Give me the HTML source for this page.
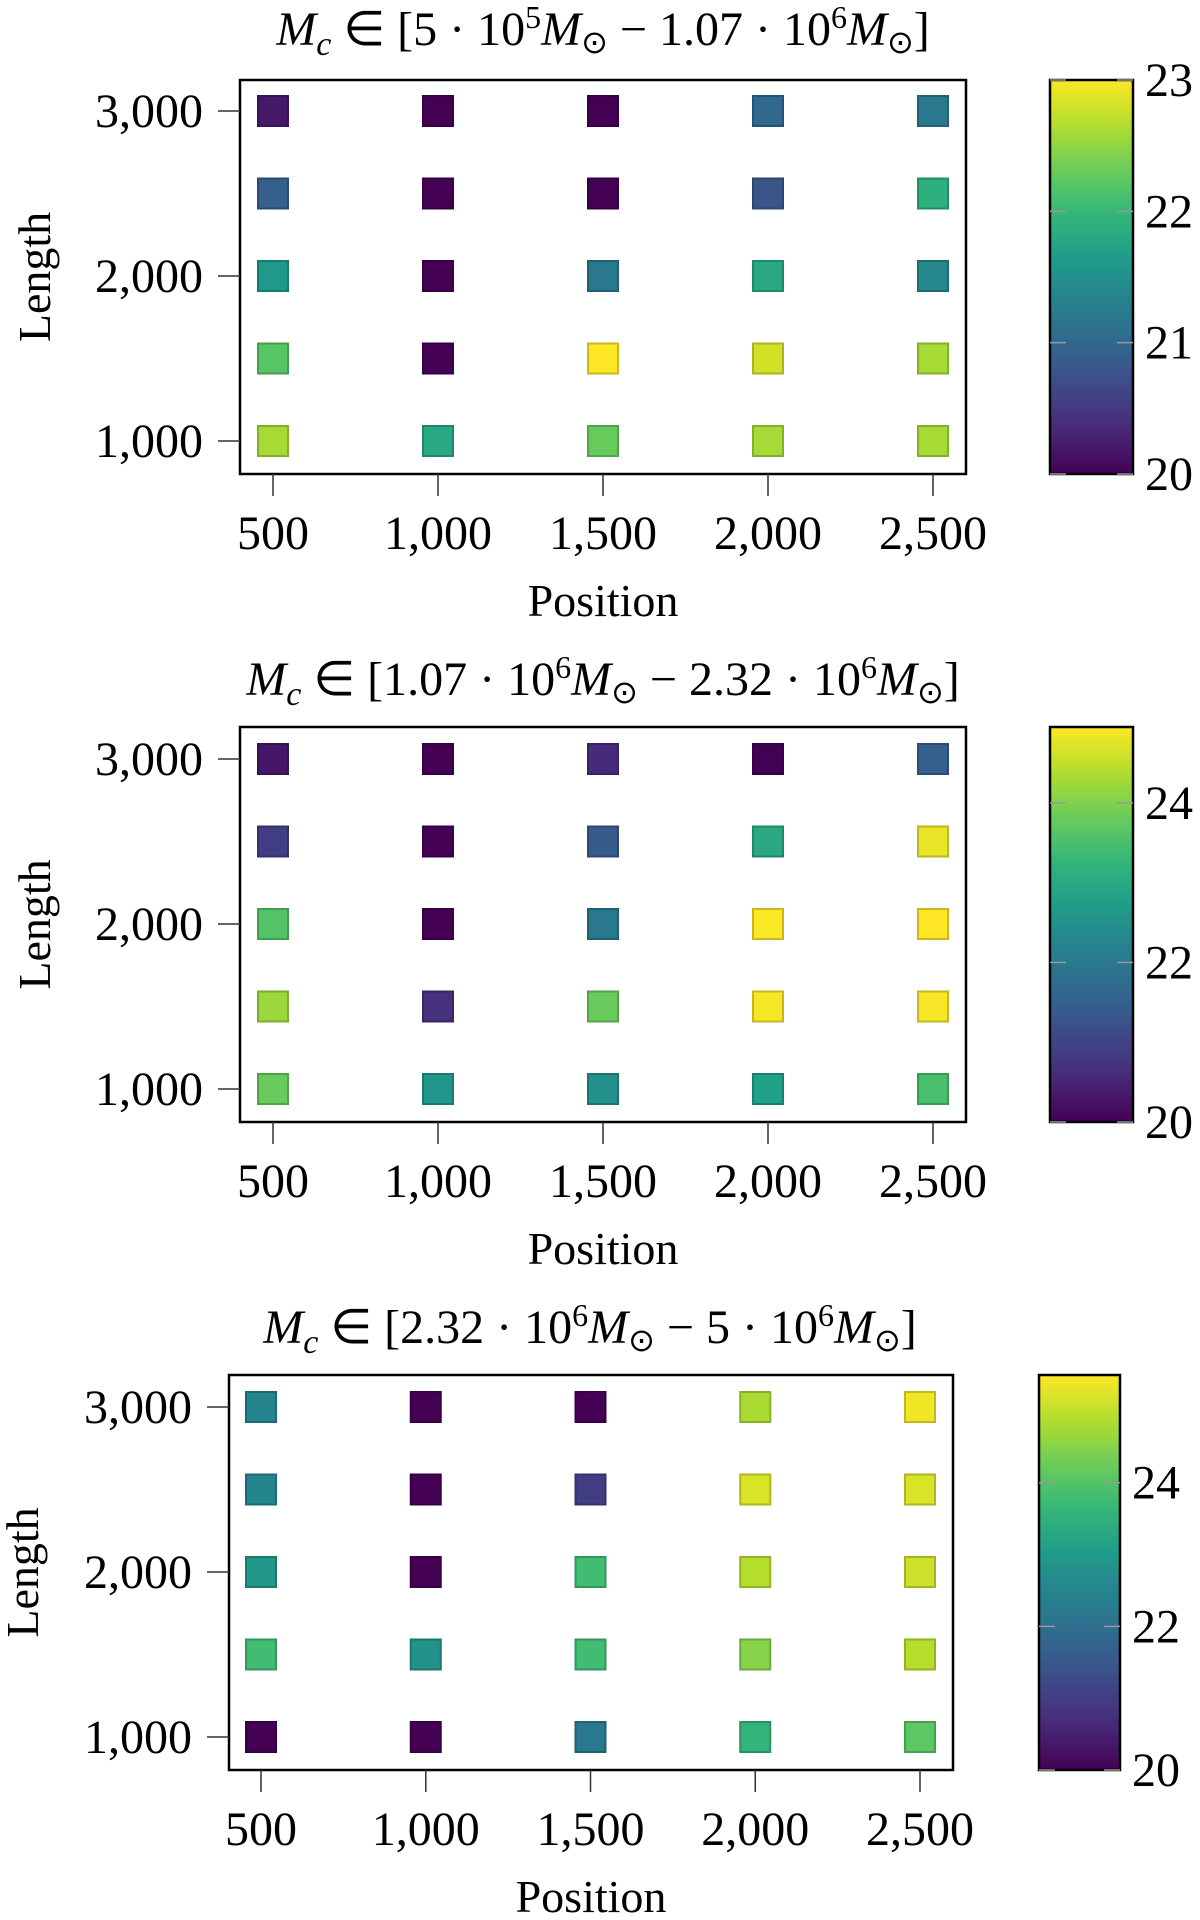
<!DOCTYPE html>
<html><head><meta charset="utf-8">
<style>
html,body{margin:0;padding:0;background:#fff;}
svg{display:block;font-family:"Liberation Serif",serif;}
</style></head>
<body>
<svg id="fig" width="1200" height="1920" viewBox="0 0 1200 1920" xmlns="http://www.w3.org/2000/svg"></svg>
<script>
const positions = [500, 1000, 1500, 2000, 2500];
const lengths = [3000, 2500, 2000, 1500, 1000];
const xTicks = [500, 1000, 1500, 2000, 2500];
const xTickLabels = ["500", "1,000", "1,500", "2,000", "2,500"];
const yTicks = [1000, 2000, 3000];
const yTickLabels = ["1,000", "2,000", "3,000"];
// values rows = lengths (3000..1000), cols = positions
const values1 = [
  [20.2, 20.0, 20.0, 21.0, 21.2],
  [20.9, 20.0, 20.0, 20.8, 21.9],
  [21.6, 20.0, 21.2, 21.8, 21.4],
  [22.2, 20.0, 23.0, 22.8, 22.6],
  [22.6, 21.8, 22.3, 22.6, 22.6]
];
const values2 = [
  [20.3, 20.0, 20.6, 20.0, 21.5],
  [20.9, 20.0, 21.4, 23.0, 24.8],
  [23.6, 20.0, 22.0, 25.0, 25.0],
  [24.2, 20.7, 23.8, 24.9, 24.9],
  [23.8, 22.6, 22.5, 22.8, 23.5]
];
const values3 = [
  [22.5, 20.0, 20.0, 24.8, 25.4],
  [22.5, 20.0, 21.0, 25.2, 25.2],
  [22.9, 20.0, 23.8, 24.9, 25.1],
  [23.8, 22.8, 23.8, 24.5, 24.9],
  [20.0, 20.0, 22.2, 23.6, 24.1]
];
const cbTicks1 = [20, 21, 22, 23];
const cbTicks2 = [20, 22, 24];
const cbTicks3 = [20, 22, 24];
const cbRange1 = [20, 23];
const cbRange2 = [20, 24.95];
const cbRange3 = [20, 25.5];

const NS = "http://www.w3.org/2000/svg";
const svg = document.getElementById("fig");
const VIR = [[68,1,84],[72,40,120],[62,74,137],[49,104,142],[38,130,142],[31,158,137],[53,183,121],[109,205,89],[180,222,44],[253,231,37]];
function viridis(t){t=Math.max(0,Math.min(1,t));const p=t*(VIR.length-1);const i=Math.min(VIR.length-2,Math.floor(p));const f=p-i;
  return VIR[i].map((c,k)=>Math.round(c+(VIR[i+1][k]-c)*f));}
function rgb(c){return `rgb(${c[0]},${c[1]},${c[2]})`;}
function mk(tag, attrs, parent){const e=document.createElementNS(NS,tag);for(const k in attrs)e.setAttribute(k,attrs[k]);(parent||svg).appendChild(e);return e;}

function panel(cfg){
  const g = mk("g",{});
  
  
  const xs = v => cfg.x500 + (v-500)/2000*(cfg.x2500-cfg.x500);
  const ys = v => cfg.y1000 + (v-1000)/2000*(cfg.y3000-cfg.y1000);
  const t = mk("text",{x:cfg.tx,y:cfg.ty,"text-anchor":"middle","font-size":48},g);
  
  
  t.innerHTML = cfg.title;
  const box = mk("rect",{x:cfg.bx0,y:cfg.by0,width:cfg.bx1-cfg.bx0,height:cfg.by1-cfg.by0,fill:"#fff",stroke:"#000","stroke-width":2.5},g);
  
  
  xTicks.forEach((v,i)=>{
    const l = mk("line",{x1:xs(v),x2:xs(v),y1:cfg.by1,y2:cfg.by1+22,stroke:"#333","stroke-width":1.5},g);
    
    
    const tx = mk("text",{x:xs(v),y:cfg.by1+75,"text-anchor":"middle","font-size":48},g);
    
    
    tx.textContent = xTickLabels[i];
  });
  yTicks.forEach((v,i)=>{
    const l = mk("line",{x1:cfg.bx0-22,x2:cfg.bx0,y1:ys(v),y2:ys(v),stroke:"#333","stroke-width":1.5},g);
    
    
    const tx = mk("text",{x:cfg.bx0-37,y:ys(v)+16,"text-anchor":"end","font-size":48},g);
    
    
    tx.textContent = yTickLabels[i];
  });
  const xl = mk("text",{x:(cfg.bx0+cfg.bx1)/2,y:cfg.by1+142,"text-anchor":"middle","font-size":46},g);
  
  
  xl.textContent = "Position";
  const yl = mk("text",{x:0,y:0,"text-anchor":"middle","font-size":46,transform:`translate(${cfg.lx},${(cfg.by0+cfg.by1)/2}) rotate(-90)`},g);
  
  
  yl.textContent = "Length";
  const [lo,hi] = cfg.range;
  const s = 30;
  cfg.values.forEach((row,r)=>row.forEach((v,c)=>{
    const col = viridis((v-lo)/(hi-lo));
    const dark = col.map(x=>Math.round(x*0.8));
    const m = mk("rect",{x:xs(positions[c])-s/2,y:ys(lengths[r])-s/2,width:s,height:s,fill:rgb(col),stroke:rgb(dark),"stroke-width":2},g);
    
    
  }));
  const gid = "grad"+cfg.id;
  const defs = mk("defs",{},g);
  const lg = mk("linearGradient",{id:gid,x1:0,y1:1,x2:0,y2:0},defs);
  for(let i=0;i<=20;i++){mk("stop",{offset:i/20,"stop-color":rgb(viridis(i/20))},lg);}
  const cb = mk("rect",{x:cfg.cx0,y:cfg.by0,width:cfg.cx1-cfg.cx0,height:cfg.by1-cfg.by0,fill:`url(#${gid})`,stroke:"#000","stroke-width":2.5},g);
  
  
  const cs = v => cfg.by1 - (v-lo)/(hi-lo)*(cfg.by1-cfg.by0);
  cfg.cbTicks.forEach(v=>{
    const y = cs(v);
    [cfg.cx0, cfg.cx1-16].forEach(x0=>{
      const l = mk("line",{x1:x0,x2:x0+16,y1:y,y2:y,stroke:"#999","stroke-width":1.5},g);
      
      
    });
    const tx = mk("text",{x:cfg.cx1+12,y:y+16,"font-size":48},g);
    
    
    tx.textContent = String(v);
  });
}
const T = (a,b)=>`<tspan font-style="italic">M</tspan><tspan font-style="italic" font-size="34" dy="10">c</tspan><tspan dy="-10"> ∈ [${a} · 10</tspan><tspan font-size="32" dy="-17">${b[0]}</tspan><tspan dy="17" font-style="italic">M</tspan><tspan font-size="32" dy="8">⊙</tspan><tspan dy="-8"> − ${b[2]} · 10</tspan><tspan font-size="32" dy="-17">${b[1]}</tspan><tspan dy="17" font-style="italic">M</tspan><tspan font-size="32" dy="8">⊙</tspan><tspan dy="-8">]</tspan>`;
panel({id:1,name:"panel-low-mass",title:T("5",["5","6","1.07"]),tx:603,ty:45,bx0:240,bx1:966,by0:80,by1:474,x500:273,x2500:933,y3000:111,y1000:441,cx0:1050,cx1:1133,lx:50,values:values1,range:cbRange1,cbTicks:cbTicks1});
panel({id:2,name:"panel-mid-mass",title:T("1.07",["6","6","2.32"]),tx:603,ty:695,bx0:240,bx1:966,by0:727,by1:1122,x500:273,x2500:933,y3000:759,y1000:1089,cx0:1050,cx1:1133,lx:50,values:values2,range:cbRange2,cbTicks:cbTicks2});
panel({id:3,name:"panel-high-mass",title:T("2.32",["6","6","5"]),tx:590,ty:1343,bx0:229,bx1:953,by0:1375,by1:1770,x500:261,x2500:920,y3000:1407,y1000:1737,cx0:1039,cx1:1120,lx:38,values:values3,range:cbRange3,cbTicks:cbTicks3});
</script>
</body></html>
